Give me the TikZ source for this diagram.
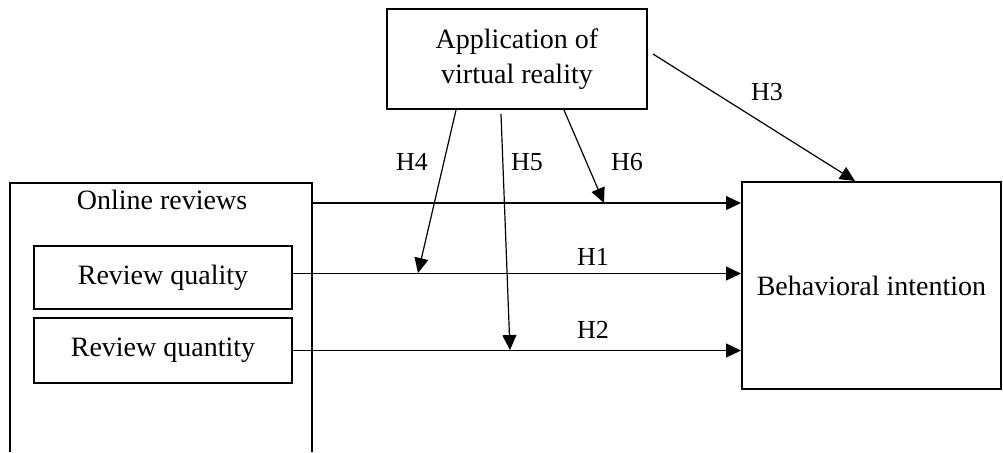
\documentclass[tikz,border=0pt]{standalone}
\usepackage{fontspec}
\setmainfont{Liberation Serif}
\usetikzlibrary{arrows.meta,positioning}

\begin{document}
\begin{tikzpicture}[x=0.5pt, y=-0.5pt,
    box/.style={draw, line width=1pt, minimum width=129pt, align=center, font=\fontsize{14}{17.5}\selectfont},
    conn/.style={-{Triangle[length=7.5pt,width=7pt]}, line width=0.6pt},
    hyp/.style={font=\fontsize{13}{15}\selectfont}]
    \useasboundingbox (0,0) rectangle (1003,452);
    % online reviews frame, open at the bottom
    \draw[line width=1pt] (10,452) |- (312,183) -- (312,452);
    \node[font=\fontsize{14}{17.5}\selectfont] (online) at (162,200) {Online reviews};
    \node[box, minimum height=31.5pt] (quality) at (163,277.5) {Review quality};
    \node[box, minimum height=32.5pt] (quantity) at (163,350.5) {Review quantity};
    \node[box, minimum width=130pt, minimum height=50pt] (app) at (517,59) {Application of\\virtual reality};
    \node[box, minimum width=129.5pt, minimum height=103.5pt] (bi) at (871.5,285.5) {Behavioral intention};

    % points where the moderating arrows meet
    \coordinate (orR) at (312,203);
    \coordinate (h3s) at (653,54);
    \coordinate (h3e) at (855,181);
    \coordinate (h4s) at (456,110);
    \coordinate (h4e) at (418,273);
    \coordinate (h5s) at (501,114);
    \coordinate (h5e) at (510,350);
    \coordinate (h6s) at (564,110);
    \coordinate (h6e) at (604,203);

    \draw[conn] (orR) -- (orR -| bi.west);
    \draw[conn] ([yshift=2pt]quality.east) -- ([yshift=2pt]quality.east -| bi.west);
    \draw[conn] (quantity.east) -- (quantity.east -| bi.west);
    \draw[conn] (h3s) -- (h3e);
    \draw[conn] (h4s) -- (h4e);
    \draw[conn] (h5s) -- (h5e);
    \draw[conn] (h6s) -- (h6e);

    \node[hyp] (lh1) at (593,257) {H1};
    \node[hyp] (lh2) at (593,330) {H2};
    \node[hyp] (lh3) at (767,92) {H3};
    \node[hyp] (lh4) at (412,162) {H4};
    \node[hyp] (lh5) at (527,162) {H5};
    \node[hyp] (lh6) at (627,162) {H6};
\end{tikzpicture}
\end{document}
